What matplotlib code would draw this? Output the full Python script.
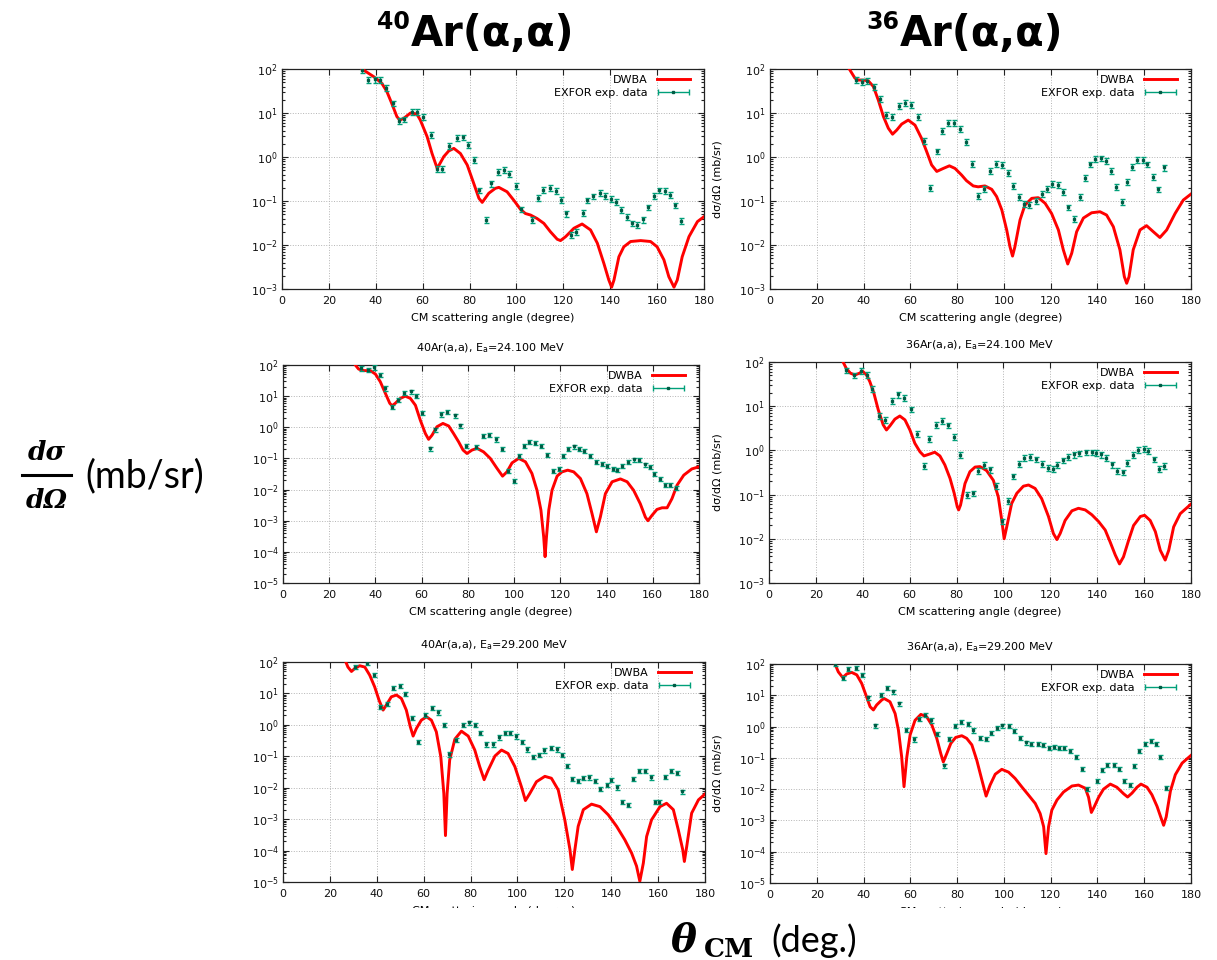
import numpy as np
import matplotlib
matplotlib.use('Agg')
import matplotlib.pyplot as plt
from matplotlib.lines import Line2D
from matplotlib.patches import Rectangle
from matplotlib.container import ErrorbarContainer
from matplotlib.legend_handler import HandlerErrorbar
from matplotlib.ticker import LogLocator, MultipleLocator, NullFormatter

W, H = 1217, 960
RED = '#ff0000'
GREEN = '#00a07a'
DARK_GREEN = '#005c44'
REL_ERR = 0.15   # relative uncertainty drawn on the EXFOR points

#### 40Ar(a,a), top row ####
ar40_top_theta = [34.1, 39.1, 40.6, 42.6, 44.7, 46.8, 49.0, 50.2, 52.0, 54.8, 57.5, 59.0, 61.9, 64.0, 66.2,
                  69.0, 71.1, 73.3, 76.1, 79.0, 81.8, 84.0, 85.4, 88.2, 91.0, 92.5, 96.0, 98.8, 101.7, 103.8,
                  106.0, 108.8, 111.7, 114.5, 117.4, 118.8, 121.0, 124.5, 128.0, 131.6, 134.5, 137.3, 139.4,
                  140.6, 141.6, 143.7, 145.8, 148.7, 153.0, 157.2, 160.0, 162.9, 165.0, 167.2, 168.6, 170.7,
                  173.6, 177.2, 180.0]
ar40_top_dwba = [100, 67, 58, 47, 31, 16.6, 8.3, 6.9, 7.6, 10, 9.5, 6.9, 2.9, 1.2, 0.55,
                 1.02, 1.37, 1.57, 1.2, 0.66, 0.25, 0.115, 0.093, 0.15, 0.194, 0.204, 0.162, 0.105, 0.065, 0.052,
                 0.048, 0.04, 0.031, 0.02, 0.0135, 0.0126, 0.0155, 0.024, 0.030, 0.022, 0.011, 0.0038, 0.0016,
                 0.0011, 0.0016, 0.0054, 0.0091, 0.012, 0.0126, 0.012, 0.0091, 0.0046, 0.0019, 0.0011, 0.0016, 0.0054,
                 0.0155, 0.034, 0.044]
ar40_top_exp_theta = [34.1, 36.7, 39.8, 41.7, 44.3, 47.2, 49.9, 52.2, 55.3, 57.6, 60.3, 63.5, 66.2, 68.4,
                      71.3, 74.7, 77.3, 79.4, 82.0, 84.1, 87.0, 89.2, 92.1, 94.8, 97.0, 99.7, 102.0, 106.6,
                      109.1, 111.4, 114.3, 116.7, 119.1, 121.0, 123.1, 125.5, 128.4, 130.2, 132.6, 135.5,
                      137.9, 140.2, 142.6, 144.6, 147.0, 149.1, 151.3, 154.0, 156.1, 158.7, 160.9, 163.2,
                      165.5, 167.5, 170.0]
ar40_top_exp = [95, 56, 58, 56, 37.6, 16.6, 6.6, 7.2, 10.7, 10.7, 8.3, 3.2, 0.54, 0.54,
                1.8, 2.7, 2.8, 1.9, 0.85, 0.175, 0.037, 0.25, 0.46, 0.51, 0.42, 0.22, 0.065, 0.037,
                0.12, 0.18, 0.2, 0.17, 0.105, 0.052, 0.017, 0.02, 0.054, 0.104, 0.128, 0.155,
                0.13, 0.113, 0.097, 0.063, 0.043, 0.031, 0.029, 0.038, 0.072, 0.13, 0.175, 0.17,
                0.14, 0.08, 0.036]

#### 36Ar(a,a), top row ####
ar36_top_theta = [33.9, 36.3, 37.8, 39.9, 42.0, 44.2, 46.3, 48.5, 50.6, 52.4, 54.2, 56.3, 59.1, 62.0, 64.8,
                  67.0, 69.1, 71.3, 74.1, 76.7, 79.1, 81.9, 84.0, 86.9, 89.0, 91.9, 94.8, 96.9, 99.1, 101.2,
                  102.6, 103.7, 104.7, 106.9, 109.0, 111.9, 114.7, 117.6, 120.4, 123.3, 125.4, 127.3, 129.0,
                  131.1, 134.0, 137.5, 141.1, 143.9, 146.8, 149.6, 151.5, 152.5, 153.5, 155.3, 158.2, 161.0,
                  163.9, 166.7, 169.6, 173.2, 176.7, 180.0]
ar36_top_dwba = [100, 62, 56, 56, 54, 40, 19.7, 8.3, 4.5, 3.3, 4.1, 5.6, 6.9, 5.3, 2.65,
                 1.32, 0.66, 0.47, 0.55, 0.63, 0.55, 0.39, 0.29, 0.22, 0.21, 0.22, 0.184, 0.126, 0.063, 0.022,
                 0.0091, 0.0056, 0.0091, 0.037, 0.081, 0.115, 0.119, 0.089, 0.052, 0.022, 0.0078, 0.0037, 0.0065,
                 0.02, 0.041, 0.054, 0.057, 0.048, 0.026, 0.0078, 0.0019, 0.00135, 0.0019, 0.0078, 0.022, 0.0275,
                 0.02, 0.0148, 0.022, 0.052, 0.105, 0.144]
ar36_top_exp_theta = [36.6, 39.2, 41.6, 44.3, 47.0, 49.6, 52.3, 55.2, 57.9, 60.3, 63.1, 66.0, 68.4, 71.5,
                      73.5, 76.1, 78.8, 81.2, 83.7, 86.4, 89.1, 91.5, 94.1, 96.5, 99.0, 101.6, 104.0, 106.5,
                      108.7, 110.9, 113.7, 116.1, 118.4, 120.7, 123.0, 125.3, 127.5, 130.0, 132.5, 134.5,
                      137.0, 139.0, 141.4, 143.6, 145.9, 147.8, 150.6, 152.8, 154.8, 157.0, 159.3, 161.3,
                      163.9, 166.0, 168.4]
ar36_top_exp = [56, 51, 54, 40, 21, 9.2, 8.3, 14.7, 17.2, 15.2, 8.1, 2.35, 0.2, 1.35,
                4.0, 5.9, 5.9, 4.3, 2.2, 0.69, 0.13, 0.19, 0.49, 0.71, 0.66, 0.44, 0.225, 0.126,
                0.087, 0.083, 0.1, 0.145, 0.19, 0.243, 0.231, 0.16, 0.072, 0.04, 0.126, 0.34,
                0.68, 0.91, 0.93, 0.81, 0.48, 0.21, 0.097, 0.275, 0.59, 0.87, 0.87, 0.68,
                0.35, 0.185, 0.58]

#### 40Ar(a,a), Ea = 24.100 MeV ####
ar40_24_theta = [31.3, 32.7, 35.0, 37.8, 40.0, 42.1, 44.3, 46.2, 47.2, 48.6, 50.8, 52.9, 55.1, 57.3, 59.4,
                 61.6, 63.0, 64.5, 66.6, 69.2, 71.7, 73.8, 76.0, 77.9, 79.6, 81.8, 84.0, 86.8, 89.7, 92.6,
                 95.0, 96.9, 99.1, 102.0, 104.9, 107.7, 109.9, 111.6, 112.8, 113.4, 114.0, 115.0, 116.4,
                 118.6, 120.7, 123.2, 125.8, 128.7, 131.5, 133.7, 135.6, 137.3, 139.5, 142.4, 146.0, 148.9,
                 151.7, 154.6, 156.8, 157.9, 159.7, 161.8, 164.0, 166.2, 168.3, 170.5, 173.4, 176.9, 180.0]
ar40_24_dwba = [100, 74, 66, 66, 51, 29, 12.3, 5.9, 4.9, 5.9, 8.5, 10, 8.5, 5.1, 1.7,
                0.63, 0.41, 0.56, 1.04, 1.33, 1.1, 0.63, 0.34, 0.186, 0.144, 0.186, 0.21, 0.162, 0.1, 0.048,
                0.027, 0.037, 0.072, 0.1, 0.078, 0.033, 0.0095, 0.0022, 0.0003, 0.00007, 0.0003, 0.0022, 0.0095,
                0.027, 0.037, 0.042, 0.037, 0.0226, 0.0074, 0.0017, 0.00044, 0.0013, 0.0074, 0.0178, 0.022, 0.0178,
                0.0095, 0.0035, 0.0013, 0.001, 0.0015, 0.0023, 0.0026, 0.0026, 0.0051, 0.0138, 0.029, 0.046, 0.054]
ar40_24_exp_theta = [33.9, 36.6, 39.2, 41.8, 44.3, 47.2, 49.6, 52.2, 55.2, 57.7, 60.1, 63.6, 65.8, 68.5,
                     71.1, 74.3, 76.4, 79.2, 83.7, 86.4, 89.1, 92.2, 94.8, 97.4, 99.8, 102.1, 104.1, 106.6,
                     109.2, 111.6, 114.2, 116.8, 119.3, 121.2, 123.3, 125.8, 128.2, 130.4, 132.7, 135.3,
                     137.9, 140.2, 142.6, 144.7, 146.8, 149.1, 151.7, 154.0, 156.6, 158.7, 160.7, 163.0,
                     165.3, 167.6, 169.9]
ar40_24_exp = [78, 69, 84, 49, 17.8, 4.6, 7.5, 12.9, 14.2, 10, 2.9, 0.21, 0.85, 2.6,
               3.1, 2.4, 1.15, 0.255, 0.237, 0.52, 0.56, 0.41, 0.2, 0.04, 0.019, 0.119, 0.255, 0.34,
               0.31, 0.25, 0.128, 0.039, 0.047, 0.121, 0.204, 0.243, 0.204, 0.171, 0.124, 0.078,
               0.066, 0.056, 0.045, 0.042, 0.056, 0.078, 0.093, 0.088, 0.064, 0.054, 0.032, 0.022,
               0.014, 0.0145, 0.0112]

#### 36Ar(a,a), Ea = 24.100 MeV ####
ar36_24_theta = [31.6, 33.0, 34.7, 36.6, 38.7, 39.9, 41.6, 43.0, 44.7, 46.6, 48.7, 50.1, 51.6, 53.7, 55.8,
                 58.0, 60.1, 62.2, 64.4, 66.1, 68.6, 70.7, 72.9, 75.0, 77.2, 79.0, 80.3, 80.9, 81.7, 83.6,
                 85.7, 87.9, 90.0, 92.8, 95.7, 97.8, 99.3, 100.3, 101.4, 103.5, 105.7, 108.5, 110.7, 113.5,
                 116.3, 119.2, 121.3, 122.8, 124.2, 126.3, 129.2, 132.0, 134.9, 137.7, 140.6, 143.4, 145.5,
                 147.7, 149.5, 151.2, 153.4, 155.5, 158.4, 160.2, 162.6, 164.8, 166.9, 169.0, 170.5, 172.6,
                 175.4, 180.0]
ar36_24_dwba = [100, 71, 56, 51, 56, 62, 51, 36, 20, 8.3, 3.8, 2.9, 3.6, 5.1, 6.0,
                4.9, 2.9, 1.45, 0.93, 0.75, 0.83, 0.91, 0.75, 0.47, 0.234, 0.107, 0.053, 0.045, 0.058, 0.178,
                0.33, 0.42, 0.43, 0.35, 0.21, 0.089, 0.026, 0.01, 0.0186, 0.063, 0.107, 0.155, 0.165, 0.138,
                0.081, 0.032, 0.0132, 0.0096, 0.0132, 0.026, 0.043, 0.049, 0.045, 0.035, 0.0245, 0.0158, 0.0085,
                0.0043, 0.0027, 0.0039, 0.0093, 0.02, 0.032, 0.034, 0.026, 0.0145, 0.0055, 0.0033, 0.0055, 0.0186,
                0.037, 0.061]
ar36_24_exp_theta = [33.0, 36.3, 39.2, 41.6, 44.1, 46.9, 49.6, 52.3, 55.1, 57.5, 60.5, 63.2, 66.1, 68.3,
                     71.3, 73.8, 76.3, 79.1, 81.5, 84.4, 87.2, 89.3, 91.7, 94.4, 96.8, 99.5, 101.8, 104.1,
                     106.5, 108.9, 111.4, 113.8, 116.3, 118.8, 121.0, 123.0, 125.3, 127.7, 130.1, 132.4,
                     135.0, 137.7, 139.6, 141.7, 143.8, 146.4, 148.4, 150.8, 152.8, 155.2, 157.4, 159.8,
                     161.8, 164.2, 166.3, 168.6]
ar36_24_exp = [65, 50, 62, 51, 24.5, 6.1, 4.9, 13.2, 18.5, 15.7, 8.5, 2.37, 0.44, 1.85,
               3.8, 4.6, 3.7, 2.06, 0.8, 0.098, 0.107, 0.35, 0.47, 0.37, 0.159, 0.025, 0.071, 0.26,
               0.5, 0.69, 0.72, 0.63, 0.49, 0.4, 0.38, 0.47, 0.6, 0.71, 0.81, 0.86,
               0.91, 0.91, 0.87, 0.81, 0.69, 0.48, 0.35, 0.32, 0.52, 0.8, 1.02, 1.09,
               0.99, 0.63, 0.38, 0.45]

#### 40Ar(a,a), Ea = 29.200 MeV ####
ar40_29_theta = [26.8, 27.7, 29.2, 30.6, 32.7, 34.9, 37.0, 39.1, 41.0, 42.7, 44.1, 46.2, 48.4, 50.5, 52.6,
                 54.3, 55.5, 56.9, 59.0, 61.2, 63.3, 65.4, 67.3, 68.6, 69.3, 70.0, 71.1, 73.3, 76.1, 79.0,
                 81.8, 83.9, 85.8, 87.5, 90.4, 93.2, 96.0, 98.9, 101.7, 103.4, 105.3, 108.1, 111.7, 114.5,
                 117.4, 120.2, 122.4, 123.4, 124.5, 125.9, 128.1, 131.6, 135.2, 138.7, 142.3, 145.8, 148.7,
                 150.8, 152.2, 153.7, 155.1, 157.2, 160.8, 163.6, 166.5, 168.6, 170.5, 171.2, 172.2, 174.3,
                 177.2, 180.0]
ar40_29_dwba = [100, 69, 50, 62, 76, 69, 38, 16.2, 6.0, 2.95, 4.3, 7.8, 8.9, 6.9, 2.95,
                0.87, 0.44, 0.77, 1.41, 1.8, 1.41, 0.6, 0.098, 0.0066, 0.0003, 0.0066, 0.076, 0.35, 0.63, 0.44,
                0.158, 0.047, 0.018, 0.036, 0.102, 0.158, 0.123, 0.047, 0.0107, 0.0039, 0.0066, 0.0155, 0.023, 0.02,
                0.0085, 0.00095, 0.000107, 0.000025, 0.000107, 0.00059, 0.002, 0.003, 0.0025, 0.00138, 0.00059,
                0.00022, 0.000083, 0.000032, 0.0000105, 0.00004, 0.00028, 0.00095, 0.0025, 0.0032, 0.002, 0.00046,
                0.000107, 0.000045, 0.000135, 0.00155, 0.0041, 0.0063]
ar40_29_exp_theta = [30.7, 36.0, 39.0, 41.5, 44.3, 47.1, 49.7, 52.1, 54.9, 57.6, 60.5, 63.6, 66.2, 68.6,
                     70.7, 73.8, 76.7, 79.3, 81.8, 84.1, 86.5, 89.4, 92.1, 94.6, 96.9, 99.3, 102.0, 104.2,
                     106.7, 109.3, 111.4, 114.1, 116.7, 119.0, 121.2, 123.4, 125.9, 128.1, 130.6, 132.9,
                     135.2, 138.0, 139.9, 142.3, 144.4, 147.0, 149.5, 152.0, 154.4, 156.9, 158.8, 160.5,
                     162.9, 165.5, 167.9, 170.3]
ar40_29_exp = [69, 93, 38, 3.7, 4.6, 15.4, 17, 9.7, 1.7, 0.29, 2.1, 3.4, 2.5, 0.98,
               0.115, 0.33, 0.98, 1.19, 1.02, 0.54, 0.24, 0.24, 0.4, 0.54, 0.56, 0.43, 0.28, 0.166,
               0.098, 0.11, 0.155, 0.19, 0.166, 0.11, 0.05, 0.0186, 0.0164, 0.021, 0.0213, 0.0164,
               0.0091, 0.0123, 0.0178, 0.0103, 0.0036, 0.0028, 0.0186, 0.035, 0.035, 0.0213, 0.0036, 0.0036,
               0.022, 0.035, 0.029, 0.0076]

#### 36Ar(a,a), Ea = 29.200 MeV ####
ar36_29_theta = [27.8, 29.2, 31.1, 32.8, 34.9, 37.1, 39.2, 41.3, 42.8, 44.2, 45.6, 47.8, 48.8, 51.3, 53.5,
                 54.9, 56.3, 57.3, 58.5, 59.9, 62.0, 64.5, 67.0, 69.2, 71.3, 73.0, 74.1, 75.6, 77.3, 79.4,
                 82.0, 84.1, 86.3, 88.4, 90.6, 92.4, 94.1, 96.3, 99.1, 102.0, 104.8, 107.7, 110.5, 113.4,
                 115.5, 117.0, 118.0, 119.1, 120.5, 122.7, 125.5, 129.1, 131.9, 134.8, 136.2, 137.4, 138.6,
                 140.5, 142.6, 145.5, 148.3, 151.2, 152.9, 154.8, 156.9, 158.6, 161.2, 163.3, 165.5, 167.2,
                 168.3, 169.4, 171.2, 173.3, 176.2, 180.0]
ar36_29_dwba = [100, 56, 37, 48, 54, 45, 24, 8.9, 4.3, 3.4, 4.9, 7.1, 7.9, 6.2, 2.6,
                0.78, 0.107, 0.012, 0.107, 0.54, 1.58, 2.45, 2.05, 1.12, 0.42, 0.138, 0.074, 0.138, 0.29, 0.45,
                0.51, 0.42, 0.26, 0.085, 0.0195, 0.006, 0.0135, 0.03, 0.043, 0.035, 0.022, 0.0117, 0.0065, 0.0035,
                0.00166, 0.00063, 0.000087, 0.00063, 0.00214, 0.0045, 0.0081, 0.0126, 0.0135, 0.0107, 0.0055, 0.0018,
                0.0027, 0.0055, 0.01, 0.0145, 0.0115, 0.0071, 0.0056, 0.0075, 0.0115, 0.0145, 0.0115, 0.0066, 0.0028,
                0.0012, 0.0007, 0.0013, 0.0087, 0.029, 0.068, 0.12]
ar36_29_exp_theta = [27.8, 31.1, 33.5, 36.7, 39.2, 41.9, 44.9, 47.4, 49.9, 52.5, 55.3, 58.1, 61.5, 63.8,
                     66.3, 68.9, 71.6, 74.2, 76.6, 79.2, 81.7, 84.6, 87.0, 89.9, 92.3, 94.6, 97.0, 99.4,
                     102.0, 104.4, 106.8, 109.4, 111.8, 114.4, 116.7, 119.1, 121.5, 123.4, 125.8, 128.4,
                     130.8, 133.4, 135.5, 139.8, 142.1, 144.1, 146.9, 149.1, 151.5, 153.8, 155.6, 157.9,
                     160.5, 162.9, 164.9, 166.9, 169.3]
ar36_29_exp = [100, 37, 69, 73, 44, 8.5, 1.09, 10, 17, 13.3, 5.5, 0.78, 0.39, 1.8,
               2.3, 1.58, 0.59, 0.057, 0.41, 1.06, 1.38, 1.23, 0.76, 0.43, 0.41, 0.63, 0.93, 1.09,
               1.03, 0.72, 0.44, 0.31, 0.275, 0.275, 0.26, 0.21, 0.22, 0.21, 0.21, 0.17,
               0.108, 0.044, 0.01, 0.018, 0.042, 0.061, 0.06, 0.045, 0.0185, 0.0135, 0.056, 0.17,
               0.28, 0.35, 0.28, 0.105, 0.011]

# panel boxes in pixels: left, top, right, bottom
boxes = {
    'ar40_top': (282, 69, 704, 289),
    'ar36_top': (770, 69, 1191, 289),
    'ar40_24': (283, 365, 699, 583),
    'ar36_24': (769, 362, 1191, 583),
    'ar40_29': (283, 662, 705, 882),
    'ar36_29': (770, 664, 1191, 883),
}

TICK_FS = 8


def fig_xy(x, y):
    return x / W, 1 - y / H


def draw_panel(fig, key, theta, dwba, exp_theta, exp_val, ymin, ylabel=False, title=None):
    l, t, r, b = boxes[key]
    ax = fig.add_axes([l / W, 1 - b / H, (r - l) / W, (b - t) / H])
    ax.set_yscale('log')

    line, = ax.plot(theta, dwba, color=RED, lw=2.1, zorder=3, solid_joinstyle='round')
    exp_val = np.asarray(exp_val)
    ax.errorbar(exp_theta, exp_val, yerr=REL_ERR * exp_val, fmt='s', ms=1.5,
                color=DARK_GREEN, ecolor=GREEN, elinewidth=1.0, capsize=1.8, capthick=1.0, zorder=4)
    proxy = ax.errorbar([np.nan], [np.nan], xerr=[1.0], fmt='s', ms=1.5, color=DARK_GREEN,
                        ecolor=GREEN, elinewidth=1.0, capsize=2.2, capthick=1.0)

    ax.set_xlim(0, 180)
    ax.set_ylim(ymin, 100)
    ax.xaxis.set_major_locator(MultipleLocator(20))
    ax.yaxis.set_major_locator(LogLocator(base=10, numticks=20))
    ax.yaxis.set_minor_locator(LogLocator(base=10, subs=np.arange(2, 10), numticks=100))
    ax.yaxis.set_minor_formatter(NullFormatter())
    ax.tick_params(which='both', direction='in', top=True, right=True, labelsize=TICK_FS,
                   colors='#222222', labelcolor='#111111', width=0.8)
    ax.tick_params(which='major', length=4)
    ax.tick_params(which='minor', length=2)
    ax.tick_params(axis='x', pad=5)
    ax.tick_params(axis='y', pad=3)
    ax.grid(True, which='major', ls=':', color='#b4b4b4', lw=0.7)
    for s in ax.spines.values():
        s.set_color('#222222')
        s.set_linewidth(0.9)

    ax.set_xlabel('CM scattering angle (degree)', fontsize=TICK_FS, labelpad=5)
    if ylabel:
        ax.set_ylabel('dσ/dΩ (mb/sr)', fontsize=TICK_FS)
        ax.yaxis.set_label_coords(-47 / (r - l), 0.5)
    if title:
        ax.set_title(title, fontsize=TICK_FS, pad=10)

    ax.legend([line, proxy], ['DWBA', 'EXFOR exp. data'], loc='upper right',
              bbox_to_anchor=(1 - 14 / (r - l), 1 - 6 / (b - t)), borderaxespad=0, borderpad=0,
              frameon=False, fontsize=TICK_FS, markerfirst=False, handlelength=3.0,
              handletextpad=0.8, labelspacing=0.3,
              handler_map={ErrorbarContainer: HandlerErrorbar(xerr_size=1.4)})
    return ax


fig = plt.figure(figsize=(W / 100, H / 100), dpi=100)

draw_panel(fig, 'ar40_top', ar40_top_theta, ar40_top_dwba, ar40_top_exp_theta, ar40_top_exp, 1e-3)
draw_panel(fig, 'ar36_top', ar36_top_theta, ar36_top_dwba, ar36_top_exp_theta, ar36_top_exp, 1e-3,
           ylabel=True)
draw_panel(fig, 'ar40_24', ar40_24_theta, ar40_24_dwba, ar40_24_exp_theta, ar40_24_exp, 1e-5,
           title=r'40Ar(a,a), E$_\mathregular{a}$=24.100 MeV')
draw_panel(fig, 'ar36_24', ar36_24_theta, ar36_24_dwba, ar36_24_exp_theta, ar36_24_exp, 1e-3,
           ylabel=True, title=r'36Ar(a,a), E$_\mathregular{a}$=24.100 MeV')
draw_panel(fig, 'ar40_29', ar40_29_theta, ar40_29_dwba, ar40_29_exp_theta, ar40_29_exp, 1e-5,
           title=r'40Ar(a,a), E$_\mathregular{a}$=29.200 MeV')
draw_panel(fig, 'ar36_29', ar36_29_theta, ar36_29_dwba, ar36_29_exp_theta, ar36_29_exp, 1e-5,
           ylabel=True, title=r'36Ar(a,a), E$_\mathregular{a}$=29.200 MeV')

# bottom row axis titles are cut off just below their top edge
for x0, x1 in [(380, 620), (860, 1110)]:
    fig.add_artist(Rectangle(fig_xy(x0, 926), (x1 - x0) / W, 18 / H, transform=fig.transFigure,
                             facecolor='white', edgecolor='none', zorder=10))

#### slide headings ####
HEAD = ['Liberation Sans Narrow', 'DejaVu Sans']
for sup, x0 in [('40', 411), ('36', 900)]:
    fig.text(*fig_xy(x0, 46), 'Ar(α,α)', family=HEAD, fontsize=30, fontweight='bold', ha='left', va='baseline')
    fig.text(*fig_xy(x0 - 1, 29), sup, family=HEAD, fontsize=17, fontweight='bold', ha='right', va='baseline')

# d sigma / d Omega (mb/sr)
fig.text(*fig_xy(47, 452), 'dσ', family='DejaVu Serif', fontsize=19, fontweight='bold', fontstyle='italic',
         ha='center', va='center')
fig.text(*fig_xy(47, 501), 'dΩ', family='DejaVu Serif', fontsize=19, fontweight='bold', fontstyle='italic',
         ha='center', va='center')
fig.add_artist(Line2D([22 / W, 71 / W], [1 - 475 / H, 1 - 475 / H], transform=fig.transFigure,
                      color='black', lw=2.2))
fig.text(*fig_xy(85, 476), '(mb/sr)', family='Lato', fontsize=27, ha='left', va='center')

# theta_CM (deg.)
fig.text(*fig_xy(671, 952), 'θ', family='DejaVu Serif', fontsize=28, fontweight='bold', fontstyle='italic',
         ha='left', va='baseline')
fig.text(*fig_xy(704, 957), 'CM', family='DejaVu Serif', fontsize=19, fontweight='bold',
         ha='left', va='baseline')
fig.text(*fig_xy(771, 952), '(deg.)', family='Lato', fontsize=26, ha='left', va='baseline')

fig.savefig('out.png', dpi=100)
